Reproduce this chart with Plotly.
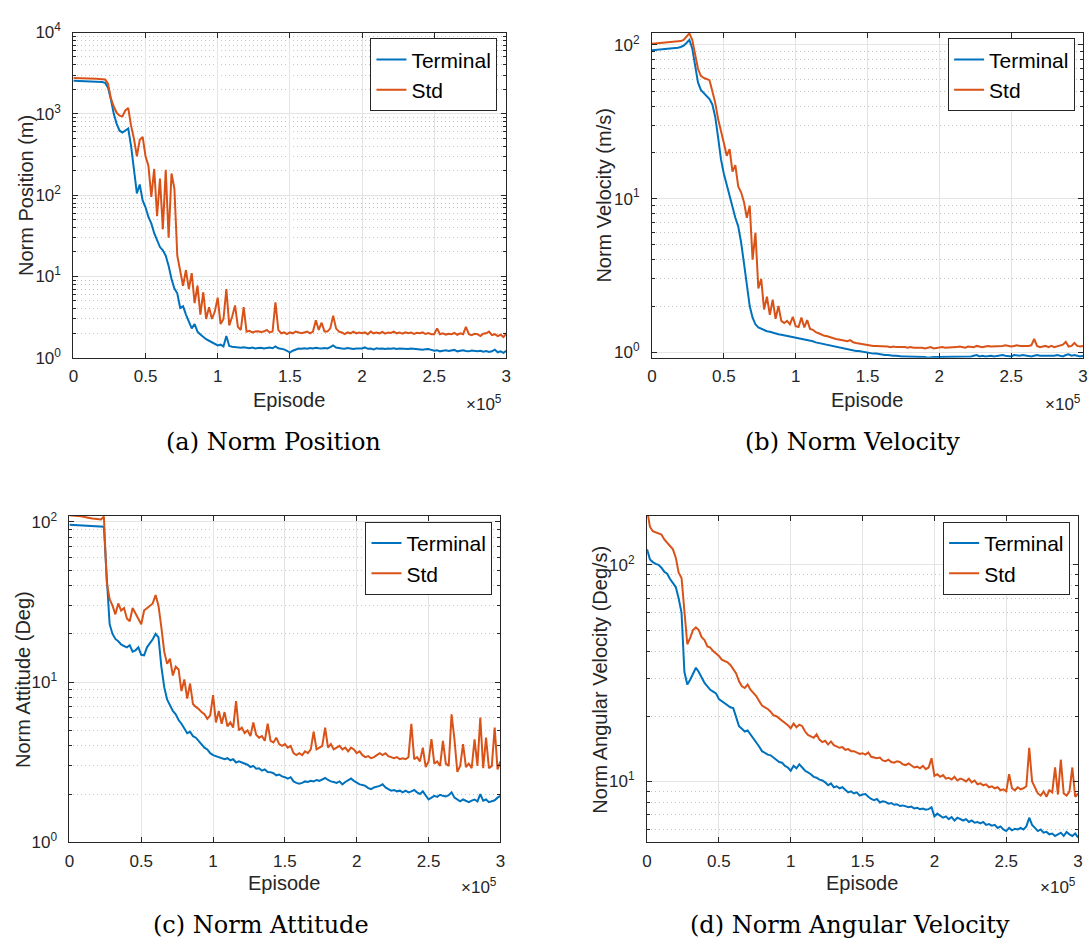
import plotly.graph_objects as go

# ---------------- data ----------------
EPISODE_K = [0, 2, 4, 6, 8, 10, 12, 14, 16, 18,
             20, 22, 24, 26, 28, 30, 32, 34, 36, 38,
             40, 42, 44, 46, 48, 50, 52, 54, 56, 58,
             60, 62, 64, 66, 68, 70, 72, 74, 76, 78,
             80, 82, 84, 86, 88, 90, 92, 94, 96, 98,
             100, 102, 104, 106, 108, 110, 112, 114, 116, 118,
             120, 122, 124, 126, 128, 130, 132, 134, 136, 138,
             140, 142, 144, 146, 148, 150, 152, 154, 156, 158,
             160, 162, 164, 166, 168, 170, 172, 174, 176, 178,
             180, 182, 184, 186, 188, 190, 192, 194, 196, 198,
             200, 202, 204, 206, 208, 210, 212, 214, 216, 218,
             220, 222, 224, 226, 228, 230, 232, 234, 236, 238,
             240, 242, 244, 246, 248, 250, 252, 254, 256, 258,
             260, 262, 264, 266, 268, 270, 272, 274, 276, 278,
             280, 282, 284, 286, 288, 290, 292, 294, 296, 298,
             300]

POS_TERMINAL = [2550, 2545, 2540, 2530, 2520, 2510, 2500, 2490, 2480, 2470,
                2460, 2400, 2100, 1500, 1000, 750, 620, 590, 620, 660,
                400, 215, 105, 135, 86, 71, 54, 45, 34, 28,
                23, 21, 18, 13.5, 9.3, 7.1, 6.2, 4.1, 4.3, 3.4,
                2.8, 2.3, 2.6, 2.1, 1.94, 1.8, 1.69, 1.62, 1.54, 1.48,
                1.42, 1.45, 1.38, 1.85, 1.4, 1.37, 1.36, 1.35, 1.33, 1.35,
                1.33, 1.31, 1.34, 1.3, 1.32, 1.33, 1.3, 1.32, 1.34, 1.31,
                1.38, 1.31, 1.3, 1.27, 1.22, 1.16, 1.22, 1.27, 1.3, 1.29,
                1.31, 1.29, 1.32, 1.3, 1.33, 1.31, 1.3, 1.32, 1.3, 1.35,
                1.42, 1.34, 1.31, 1.3, 1.29, 1.32, 1.3, 1.28, 1.3, 1.31,
                1.3, 1.34, 1.29, 1.3, 1.27, 1.31, 1.29, 1.3, 1.28, 1.3,
                1.29, 1.31, 1.28, 1.3, 1.29, 1.27, 1.28, 1.3, 1.29, 1.27,
                1.28, 1.26, 1.27, 1.28, 1.25, 1.22, 1.24, 1.2, 1.22, 1.24,
                1.21, 1.23, 1.25, 1.2, 1.22, 1.24, 1.21, 1.2, 1.23, 1.21,
                1.2, 1.22, 1.19, 1.21, 1.18, 1.2, 1.26, 1.17, 1.2, 1.15,
                1.22]

POS_STD = [2750, 2750, 2745, 2740, 2735, 2730, 2720, 2710, 2700, 2690,
           2680, 2640, 2350, 1550, 1230, 1030, 950, 930, 1100, 1180,
           710, 490, 300, 480, 520, 300, 230, 95, 210, 55,
           160, 38, 205, 30, 185, 120, 18, 12, 7.7, 12,
           7.0, 11, 4.7, 7.7, 3.4, 6.4, 3.0, 4.2, 3.0, 3.7,
           5.5, 2.6, 3.0, 7.0, 2.5, 3.2, 4.4, 2.4, 2.2, 4.2,
           2.1, 2.15, 2.05, 2.1, 2.12, 2.08, 2.1, 2.2, 2.05, 2.1,
           4.8, 2.2, 2.0, 2.05, 1.95, 2.05, 2.0, 2.1, 2.05, 2.0,
           2.05, 2.1, 2.0, 2.1, 2.9, 2.2, 2.7, 2.1, 2.1, 2.3,
           3.3, 2.3, 2.1, 2.05, 1.95, 2.05, 2.0, 2.1, 2.0, 2.05,
           2.0, 2.05, 1.95, 2.1, 2.0, 2.05, 2.0, 2.08, 1.98, 2.05,
           2.02, 2.1, 2.0, 2.05, 1.98, 2.06, 2.0, 2.04, 1.97, 2.03,
           2.0, 2.05, 1.96, 2.02, 1.95, 1.95, 2.3, 1.95, 2.0, 1.93,
           1.98, 1.95, 2.02, 1.92, 2.0, 1.95, 2.4, 1.95, 1.9, 1.98,
           1.95, 1.85, 1.98, 2.0, 2.1, 1.9, 1.95, 1.85, 1.92, 1.8,
           2.0]

VEL_TERMINAL = [92.5, 92.8, 93, 93.3, 93.6, 94, 94.2, 94.5, 95, 96,
                97, 99, 103, 108, 95, 72, 57, 51, 48.5, 46.6,
                44.5, 41, 34, 25, 18, 14.5, 12.2, 10.2, 8.8, 7.5,
                6.6, 5.2, 3.8, 2.7, 2.0, 1.68, 1.52, 1.45, 1.42, 1.39,
                1.37, 1.36, 1.34, 1.33, 1.31, 1.3, 1.29, 1.28, 1.27, 1.26,
                1.25, 1.24, 1.23, 1.21, 1.2, 1.19, 1.18, 1.16, 1.15, 1.14,
                1.13, 1.11, 1.1, 1.09, 1.08, 1.07, 1.07, 1.06, 1.05, 1.04,
                1.03, 1.02, 1.02, 1.01, 1.0, 0.99, 0.99, 0.98, 0.98, 0.97,
                0.97, 0.96, 0.96, 0.95, 0.95, 0.95, 0.94, 0.94, 0.94, 0.94,
                0.94, 0.93, 0.93, 0.94, 0.93, 0.93, 0.92, 0.93, 0.93, 0.93,
                0.93, 0.94, 0.93, 0.93, 0.94, 0.93, 0.94, 0.94, 0.93, 0.94,
                0.94, 0.94, 0.95, 0.96, 0.94, 0.95, 0.94, 0.95, 0.95, 0.94,
                0.95, 0.95, 0.96, 0.95, 0.95, 0.94, 0.96, 0.95, 0.95, 0.96,
                0.95, 0.95, 0.94, 0.95, 0.96, 0.95, 0.95, 0.94, 0.95, 0.94,
                0.95, 0.96, 0.95, 0.94, 0.96, 0.97, 0.95, 0.96, 0.95, 0.94,
                0.95]

VEL_STD = [102, 102.3, 102.6, 103, 103.3, 103.6, 104, 104.3, 104.6, 105,
           106, 108, 114, 119, 108, 86, 70, 63, 61, 60,
           59, 50, 42, 33, 28, 23, 19, 21, 15, 16.5,
           12, 11, 9.5, 7.5, 9, 4.0, 6.0, 2.6, 3.0, 1.9,
           2.3, 1.75, 2.2, 1.65, 2.0, 1.6, 1.55, 1.6, 1.52, 1.7,
           1.48, 1.46, 1.68, 1.45, 1.62, 1.42, 1.4, 1.35, 1.33, 1.3,
           1.28, 1.27, 1.25, 1.24, 1.22, 1.21, 1.2, 1.19, 1.18, 1.2,
           1.16, 1.15, 1.14, 1.13, 1.12, 1.11, 1.11, 1.1, 1.1, 1.1,
           1.09, 1.1, 1.09, 1.08, 1.09, 1.08, 1.08, 1.09, 1.08, 1.07,
           1.08, 1.07, 1.07, 1.08, 1.07, 1.06, 1.07, 1.08, 1.06, 1.07,
           1.07, 1.08, 1.07, 1.07, 1.08, 1.07, 1.08, 1.09, 1.08, 1.07,
           1.09, 1.08, 1.08, 1.1, 1.09, 1.08, 1.09, 1.1, 1.09, 1.09,
           1.1, 1.09, 1.1, 1.11, 1.1, 1.09, 1.1, 1.11, 1.1, 1.1,
           1.09, 1.1, 1.11, 1.22, 1.1, 1.08, 1.09, 1.1, 1.08, 1.1,
           1.08, 1.09, 1.1, 1.12, 1.17, 1.09, 1.1, 1.15, 1.1, 1.09,
           1.1]

ATT_TERMINAL = [96, 95.8, 95.6, 95.4, 95.2, 95, 94.8, 94.5, 94.3, 94,
                93.8, 93.6, 93.4, 45, 23, 20, 18.6, 18, 17.2, 16.8,
                16.5, 17, 15.5, 15.8, 16.5, 14.8, 14.7, 16.5, 17.5, 18.5,
                20, 19, 12.5, 9.3, 7.8, 7.2, 6.6, 6.3, 5.8, 5.5,
                5.1, 4.8, 4.9, 4.6, 4.5, 4.3, 4.1, 3.9, 3.8, 3.6,
                3.5, 3.45, 3.4, 3.35, 3.3, 3.35, 3.25, 3.3, 3.15, 3.2,
                3.15, 3.1, 3.05, 2.95, 3.0, 2.88, 2.9, 2.8, 2.85, 2.75,
                2.74, 2.7, 2.62, 2.65, 2.58, 2.55, 2.5, 2.55, 2.4, 2.35,
                2.32, 2.35, 2.4, 2.38, 2.42, 2.4, 2.45, 2.42, 2.48, 2.52,
                2.45, 2.4, 2.38, 2.35, 2.4, 2.3, 2.38, 2.45, 2.5, 2.42,
                2.35, 2.3, 2.28, 2.25, 2.18, 2.15, 2.2, 2.22, 2.25, 2.3,
                2.2, 2.15, 2.1, 2.12, 2.08, 2.1, 2.05, 2.1, 2.05, 2.08,
                2.12, 2.05, 2.0, 2.08, 1.95, 1.85, 1.9, 1.95, 1.92, 1.98,
                1.95, 1.93, 1.97, 2.05, 1.9, 1.85, 1.8, 1.85, 1.82, 1.78,
                1.82, 1.85, 1.8, 2.0, 1.82, 1.85, 1.78, 1.8, 1.83, 1.9,
                1.95]

ATT_STD = [110, 110, 109.5, 109, 108.5, 108, 107, 106, 105, 104.5,
           104, 103.5, 108, 42, 33, 30, 26.5, 31, 28, 29,
           25, 24, 29, 27, 25, 23, 28, 29, 30, 31,
           35, 30, 22, 15.5, 13, 14, 11, 12.5, 12, 8.8,
           10.4, 7.9, 9.8, 7.3, 7.0, 6.8, 6.5, 6.3, 5.9, 6.2,
           8.3, 5.6, 6.6, 5.5, 6.5, 5.3, 5.6, 5.2, 7.6, 5.0,
           5.2, 4.8, 5.0, 4.6, 5.6, 4.7, 4.5, 4.6, 4.3, 5.5,
           4.3, 4.2, 4.5, 4.1, 4.0, 4.1, 3.9, 4.0, 3.6, 3.5,
           3.6, 3.5, 3.7, 3.6, 3.8, 4.9, 3.8, 3.9, 4.0, 5.2,
           3.9, 4.1, 3.8, 3.9, 4.0, 3.8, 3.9, 3.7, 3.9, 3.8,
           3.6, 3.7, 3.5, 3.4, 3.45, 3.35, 3.4, 3.5, 3.6, 3.5,
           3.6, 3.45, 3.4, 3.35, 3.4, 3.3, 3.35, 3.3, 3.4, 5.5,
           3.3, 3.4, 3.2, 3.9, 2.95, 3.2, 4.4, 3.1, 3.2, 3.0,
           4.3, 3.1, 3.0, 6.3, 4.4, 2.75, 3.0, 4.1, 2.95, 3.1,
           2.9, 4.4, 3.0, 6.0, 2.9, 4.5, 2.9, 3.0, 5.2, 2.85,
           3.2]

ANGVEL_TERMINAL = [118, 106, 103, 101, 100, 97, 93, 91, 86, 82,
                   79, 70, 60, 32, 28, 29.5, 31.5, 33.5, 32, 30,
                   28.5, 27.5, 26.5, 26, 25.5, 24, 23.5, 23, 22.5, 22,
                   21.8, 20, 18, 17.5, 17, 17.2, 16.5, 15.8, 15.3, 14.5,
                   13.8, 13.5, 13.3, 13.2, 12.9, 12.7, 12.3, 12.2, 11.8, 11.6,
                   11.2, 11.8, 11.5, 12.0, 11.6, 11.2, 11.0, 10.8, 10.5, 10.4,
                   10.2, 10.1, 9.9, 9.6, 9.8, 9.4, 9.5, 9.3, 9.4, 9.1,
                   8.9, 9.0, 8.8, 8.9, 8.6, 8.7, 8.75, 8.5, 8.3, 8.2,
                   8.3, 8.0, 8.1, 8.05, 7.9, 7.95, 7.8, 7.85, 7.7, 7.75,
                   7.7, 7.6, 7.65, 7.5, 7.55, 7.45, 7.5, 7.4, 7.45, 7.6,
                   6.9, 7.1, 6.95, 6.8, 6.9, 6.7, 6.85, 6.6, 6.8, 6.7,
                   6.6, 6.7, 6.5, 6.6, 6.45, 6.5, 6.4, 6.5, 6.3, 6.35,
                   6.25, 6.3, 6.1, 6.2, 6.0, 5.9, 6.1, 5.95, 6.05, 6.0,
                   6.1, 6.0, 6.2, 6.8, 6.3, 6.1, 5.9, 6.0, 5.8, 5.85,
                   5.7, 5.75, 5.6, 5.7, 5.8, 5.6, 5.85, 5.7, 5.6, 5.75,
                   5.5]

ANGVEL_STD = [180, 150, 143, 141, 140, 138, 131, 127, 123, 118,
              108, 92, 87, 62, 43, 46, 50, 51.5, 50, 46.4,
              45, 42, 41.5, 40, 39, 38, 36.5, 36, 35.5, 34.5,
              33, 31.5, 29, 27.5, 27, 28, 26.5, 25.5, 24.8, 23.5,
              22.4, 22, 21.6, 21, 20.2, 20, 19.5, 19.2, 18.6, 18.2,
              17.6, 18.5, 17.8, 18.3, 18.0, 17.0, 16.4, 16.2, 15.9, 16.5,
              15.6, 15.2, 15.4, 14.8, 15.3, 14.7, 14.5, 14.3, 14.4, 14.0,
              14.1, 13.8, 13.8, 13.6, 13.4, 13.5, 13.3, 13.6, 13.0, 12.9,
              12.8, 12.9, 12.5, 12.4, 12.6, 12.3, 12.2, 12.4, 12.3, 12.0,
              11.9, 12.1, 11.8, 11.6, 11.7, 11.5, 11.8, 11.4, 11.6, 12.8,
              10.6, 10.8, 10.5, 10.7, 10.3, 10.4, 10.2, 10.5, 10.1, 10.3,
              10.2, 10.0, 10.3, 9.9, 10.1, 9.7, 9.8, 9.6, 9.7, 9.4,
              9.5, 9.3, 9.4, 9.1, 9.2, 9.0, 10.8, 9.3, 9.1, 9.4,
              9.2, 9.3, 9.5, 14.3, 10.0, 9.4, 8.8, 8.6, 9.0, 8.5,
              9.1, 8.9, 11.6, 8.7, 12.6, 8.8, 8.6, 9.0, 11.6, 8.5,
              8.8]

X_TICKS_K = [0, 50, 100, 150, 200, 250, 300]
X_TICK_TEXT = ['0', '0.5', '1', '1.5', '2', '2.5', '3']
SERIES_NAMES = ['Terminal', 'Std']
Y_TITLES = ['Norm Position (m)', 'Norm Velocity (m/s)',
            'Norm Attitude (Deg)', 'Norm Angular Velocity (Deg/s)']
CAPTIONS = ['(a) Norm Position', '(b) Norm Velocity',
            '(c) Norm Attitude', '(d) Norm Angular Velocity']

# ---------------- styling / layout ----------------
W, H = 1091, 949
BLUE = '#0072BD'
ORANGE = '#D95319'
AX = '#262626'
SANS = 'Liberation Sans, Arial, sans-serif'
SERIF = 'DejaVu Serif, serif'


def px_x(p):
    return p / W


def px_y(p):
    return 1 - p / H


# plot boxes in pixels: left, right, top, bottom ; log10 y-range
panels = [
    dict(term=POS_TERMINAL, std=POS_STD, box=(69, 506, 21, 354), yr=(0, 4),
         ytitle_x=21, xtitle=(287, 397), exp=(504, 400), cap=(271, 440),
         leg=(497, 27)),
    dict(term=VEL_TERMINAL, std=VEL_STD, box=(653, 1088, 21, 354), yr=(-0.036, 2.081),
         ytitle_x=605, xtitle=(870, 397), exp=(1088, 400), cap=(855, 440),
         leg=(1080, 27)),
    dict(term=ATT_TERMINAL, std=ATT_STD, box=(65, 500, 516, 850), yr=(0, 2.037),
         ytitle_x=18, xtitle=(282, 892), exp=(499, 895), cap=(258, 935),
         leg=(492, 522)),
    dict(term=ANGVEL_TERMINAL, std=ANGVEL_STD, box=(648, 1083, 516, 850), yr=(0.719, 2.2255),
         ytitle_x=601, xtitle=(865, 892), exp=(1083, 895), cap=(853, 935),
         leg=(1075, 522)),
]

fig = go.Figure()
layout = dict(width=W, height=H, margin=dict(l=0, r=0, t=0, b=0),
              paper_bgcolor='white', plot_bgcolor='white', showlegend=True,
              annotations=[])

for i, p in enumerate(panels):
    n = '' if i == 0 else str(i + 1)
    legname = 'legend' + n
    l, r, t, b = p['box']
    for name, ys, col in ((SERIES_NAMES[0], p['term'], BLUE), (SERIES_NAMES[1], p['std'], ORANGE)):
        fig.add_trace(go.Scatter(x=EPISODE_K, y=ys, mode='lines', name=name,
                                 line=dict(color=col, width=2),
                                 xaxis='x' + n, yaxis='y' + n, legend=legname))
    lo, hi = p['yr']
    decades = [10 ** k for k in range(-1, 5)]
    minor = [m * d for d in decades for m in range(2, 10)]
    layout['xaxis' + n] = dict(
        domain=[px_x(l), px_x(r)], anchor='y' + n, range=[0, 300],
        tickmode='array', tickvals=X_TICKS_K, ticktext=X_TICK_TEXT,
        ticks='inside', ticklen=5, tickcolor=AX, tickwidth=1,
        mirror='allticks', showline=True, linecolor=AX, linewidth=1,
        showgrid=True, gridcolor='#e4e4e4', gridwidth=1, zeroline=False,
        tickfont=dict(family=SANS, size=17, color=AX), ticklabelstandoff=3)
    layout['yaxis' + n] = dict(
        domain=[px_y(b), px_y(t)], anchor='x' + n, type='log', range=[lo, hi],
        tickmode='array', tickvals=decades,
        ticktext=['10<sup>%d</sup>' % k for k in range(-1, 5)],
        ticks='inside', ticklen=5, tickcolor=AX, tickwidth=1,
        mirror='allticks', showline=True, linecolor=AX, linewidth=1,
        showgrid=True, gridcolor='#e4e4e4', gridwidth=1, zeroline=False,
        tickfont=dict(family=SANS, size=17, color=AX), ticklabelstandoff=8,
        minor=dict(tickmode='array', tickvals=minor, ticks='inside', ticklen=3,
                   tickcolor=AX, showgrid=True, gridcolor='#c4c4c4',
                   griddash='1px,3px', gridwidth=1))
    lx, ly = p['leg']
    layout[legname] = dict(x=px_x(lx), y=px_y(ly), xanchor='right', yanchor='top',
                           bgcolor='white', bordercolor=AX, borderwidth=1,
                           font=dict(family=SANS, size=21, color='black'),
                           itemwidth=30, tracegroupgap=0)
    # axis titles
    layout['annotations'].append(dict(
        text=Y_TITLES[i], textangle=-90, x=px_x(p['ytitle_x']), y=px_y((t + b) / 2),
        xref='paper', yref='paper', showarrow=False, xanchor='center', yanchor='middle',
        font=dict(family=SANS, size=20, color=AX)))
    layout['annotations'].append(dict(
        text='Episode', x=px_x(p['xtitle'][0]), y=px_y(p['xtitle'][1]),
        xref='paper', yref='paper', showarrow=False, xanchor='center', yanchor='middle',
        font=dict(family=SANS, size=20, color=AX)))
    layout['annotations'].append(dict(
        text='\u00d710<sup>5</sup>', x=px_x(p['exp'][0]), y=px_y(p['exp'][1]),
        xref='paper', yref='paper', showarrow=False, xanchor='right', yanchor='middle',
        font=dict(family=SANS, size=17, color=AX)))
    layout['annotations'].append(dict(
        text=CAPTIONS[i], x=px_x(p['cap'][0]), y=px_y(p['cap'][1]),
        xref='paper', yref='paper', showarrow=False, xanchor='center', yanchor='middle',
        font=dict(family=SERIF, size=24, color='black')))

fig.update_layout(**layout)
fig.write_html('out.html')
